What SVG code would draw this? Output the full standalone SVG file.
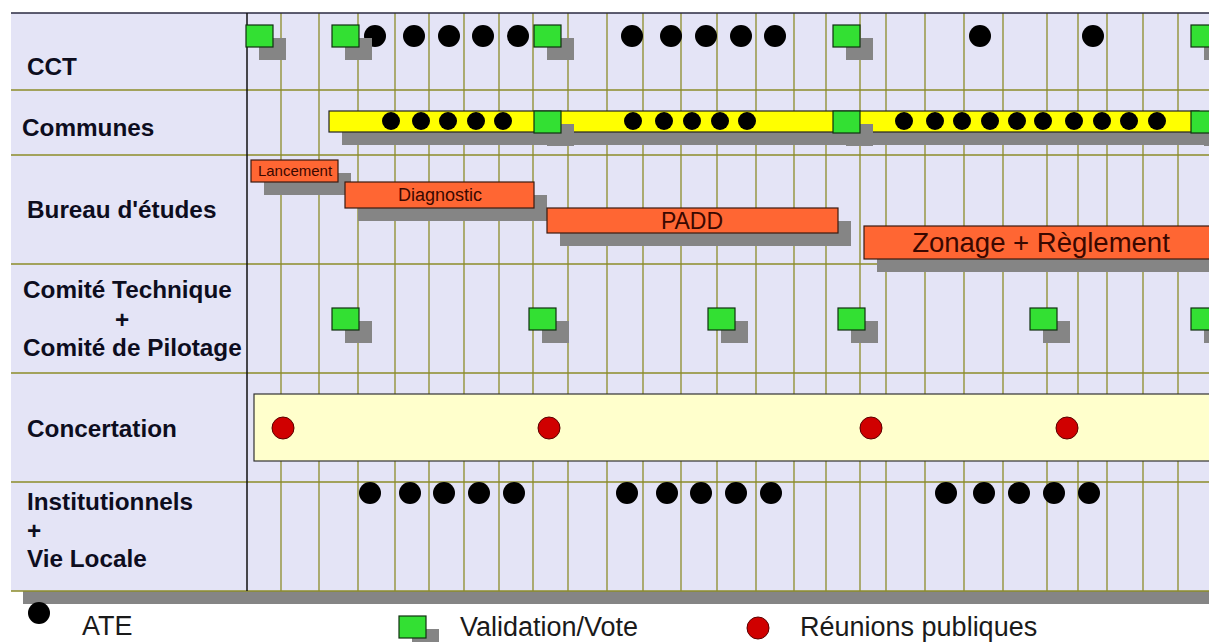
<svg xmlns="http://www.w3.org/2000/svg" xmlns:xlink="http://www.w3.org/1999/xlink" width="1209" height="642" viewBox="0 0 1209 642">
<style>
.grid{stroke:#8c8c2a;stroke-width:1.3}
.lbl{font-family:"Liberation Sans",Arial,sans-serif;font-weight:bold;font-size:24.3px;fill:#0d0d1e}
.leg{font-family:"Liberation Sans",Arial,sans-serif;font-size:27px;fill:#1a1a1a}
.bar{fill:#ff6633;stroke:#3a1a10;stroke-width:1.2}
.shadow{fill:#858585}
.bt{font-family:"Liberation Sans",Arial,sans-serif;fill:#3a0800;text-anchor:middle}
.dot{fill:#000}
.red{fill:#d00000;stroke:#5a0000;stroke-width:1}
</style>
<defs>
<g id="val"><rect x="13" y="13" width="27" height="22" class="shadow"/><rect x="0" y="0" width="27" height="22" fill="#33e033" stroke="#103010" stroke-width="1.2"/></g>
<circle id="d11" r="11" class="dot"/>
<circle id="d9" r="9" class="dot"/>
<circle id="r11" r="11" class="red"/>
</defs>

<g id="background">
<rect x="11" y="13" width="1210" height="578" fill="#e4e4f6"/>
<rect x="23" y="591" width="1200" height="13" class="shadow"/>
</g>

<g id="grid">
<path class="grid" d="M11 90H1209M11 155H1209M11 264H1209M11 373H1209M11 482H1209M11 591H1209"/>
<path class="grid" d="M281 13V591M319 13V591M358 13V591M395 13V591M429 13V591M464 13V591M499 13V591M533 13V591M568 13V591M607 13V591M643 13V591M681 13V591M717 13V591M756 13V591M794 13V591M826 13V591M860 13V591M886 13V591M925 13V591M964 13V591M1003 13V591M1047 13V591M1078 13V591M1107 13V591M1143 13V591M1178 13V591"/>
<path d="M11 13H1209" stroke="#2a2a40" stroke-width="1.5"/>
<path d="M247 13V591" stroke="#111" stroke-width="1.5"/>
</g>

<g id="row-cct">
<text class="lbl" x="27" y="75">CCT</text>
<use xlink:href="#d11" x="375" y="36"/><use xlink:href="#d11" x="414" y="36"/><use xlink:href="#d11" x="449" y="36"/><use xlink:href="#d11" x="483" y="36"/><use xlink:href="#d11" x="518" y="36"/>
<use xlink:href="#d11" x="632" y="36"/><use xlink:href="#d11" x="671" y="36"/><use xlink:href="#d11" x="706" y="36"/><use xlink:href="#d11" x="741" y="36"/><use xlink:href="#d11" x="775" y="36"/>
<use xlink:href="#d11" x="980" y="36"/><use xlink:href="#d11" x="1093" y="36"/>
<use xlink:href="#val" x="246" y="25"/><use xlink:href="#val" x="332" y="25"/><use xlink:href="#val" x="534" y="25"/><use xlink:href="#val" x="833" y="25"/><use xlink:href="#val" x="1191" y="25"/>
</g>

<g id="row-communes">
<text class="lbl" x="22" y="136">Communes</text>
<rect x="342" y="124" width="880" height="21" class="shadow"/>
<rect x="329" y="111" width="870" height="21" fill="#ffff00" stroke="#222" stroke-width="1.2"/>
<use xlink:href="#d9" x="391" y="121"/><use xlink:href="#d9" x="421" y="121"/><use xlink:href="#d9" x="448" y="121"/><use xlink:href="#d9" x="476" y="121"/><use xlink:href="#d9" x="503" y="121"/>
<use xlink:href="#d9" x="633" y="121"/><use xlink:href="#d9" x="664" y="121"/><use xlink:href="#d9" x="692" y="121"/><use xlink:href="#d9" x="720" y="121"/><use xlink:href="#d9" x="747" y="121"/>
<use xlink:href="#d9" x="904" y="121"/><use xlink:href="#d9" x="935" y="121"/><use xlink:href="#d9" x="962" y="121"/><use xlink:href="#d9" x="990" y="121"/><use xlink:href="#d9" x="1017" y="121"/><use xlink:href="#d9" x="1043" y="121"/><use xlink:href="#d9" x="1074" y="121"/><use xlink:href="#d9" x="1102" y="121"/><use xlink:href="#d9" x="1129" y="121"/><use xlink:href="#d9" x="1157" y="121"/>
<use xlink:href="#val" x="534" y="111"/><use xlink:href="#val" x="833" y="111"/><use xlink:href="#val" x="1191" y="111"/>
</g>

<g id="row-bureau">
<text class="lbl" x="27" y="218">Bureau d'études</text>
<g id="lancement"><rect x="264" y="173" width="87" height="22" class="shadow"/><rect x="251" y="160" width="87" height="22" class="bar"/><text class="bt" x="295" y="176" font-size="15">Lancement</text></g>
<g id="diagnostic"><rect x="358" y="195" width="189" height="26" class="shadow"/><rect x="345" y="182" width="189" height="26" class="bar"/><text class="bt" x="440" y="201" font-size="18">Diagnostic</text></g>
<g id="padd"><rect x="560" y="221" width="291" height="25" class="shadow"/><rect x="547" y="208" width="291" height="25" class="bar"/><text class="bt" x="692" y="229" font-size="23">PADD</text></g>
<g id="zonage"><rect x="877" y="239" width="350" height="33" class="shadow"/><rect x="864" y="226" width="350" height="33" class="bar"/><text class="bt" x="1041" y="252" font-size="27.5">Zonage + Règlement</text></g>
</g>

<g id="row-comite">
<text class="lbl" x="23" y="298">Comité Technique</text>
<text class="lbl" x="122" y="328" text-anchor="middle">+</text>
<text class="lbl" x="23" y="356">Comité de Pilotage</text>
<use xlink:href="#val" x="332" y="308"/><use xlink:href="#val" x="529" y="308"/><use xlink:href="#val" x="708" y="308"/><use xlink:href="#val" x="838" y="308"/><use xlink:href="#val" x="1030" y="308"/><use xlink:href="#val" x="1191" y="308"/>
</g>

<g id="row-concertation">
<text class="lbl" x="27" y="437">Concertation</text>
<rect x="254" y="394" width="970" height="67" fill="#ffffcc" stroke="#333" stroke-width="1.2"/>
<use xlink:href="#r11" x="283" y="428"/><use xlink:href="#r11" x="549" y="428"/><use xlink:href="#r11" x="871" y="428"/><use xlink:href="#r11" x="1067" y="428"/>
</g>

<g id="row-institutionnels">
<text class="lbl" x="27" y="510">Institutionnels</text>
<text class="lbl" x="27" y="539">+</text>
<text class="lbl" x="27" y="567">Vie Locale</text>
<use xlink:href="#d11" x="370" y="493"/><use xlink:href="#d11" x="410" y="493"/><use xlink:href="#d11" x="444" y="493"/><use xlink:href="#d11" x="479" y="493"/><use xlink:href="#d11" x="514" y="493"/>
<use xlink:href="#d11" x="627" y="493"/><use xlink:href="#d11" x="667" y="493"/><use xlink:href="#d11" x="701" y="493"/><use xlink:href="#d11" x="736" y="493"/><use xlink:href="#d11" x="771" y="493"/>
<use xlink:href="#d11" x="946" y="493"/><use xlink:href="#d11" x="984" y="493"/><use xlink:href="#d11" x="1019" y="493"/><use xlink:href="#d11" x="1054" y="493"/><use xlink:href="#d11" x="1089" y="493"/>
</g>

<g id="legend">
<use xlink:href="#d11" x="39" y="613"/>
<text class="leg" x="82" y="635">ATE</text>
<use xlink:href="#val" x="399" y="616"/>
<text class="leg" x="460" y="636">Validation/Vote</text>
<use xlink:href="#r11" x="758" y="628"/>
<text class="leg" x="800" y="636">Réunions publiques</text>
</g>

<g id="connectors"/>
</svg>
